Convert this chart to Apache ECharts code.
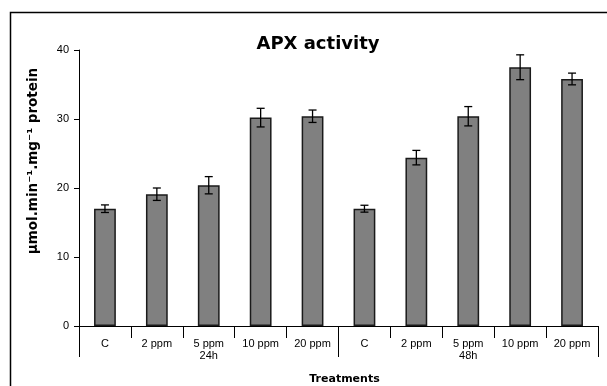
<!DOCTYPE html>
<html>
<head>
<meta charset="utf-8">
<script src="https://cdn.jsdelivr.net/npm/echarts@6/dist/echarts.min.js"></script>
<style>html,body{margin:0;padding:0;background:#fff}#c{width:607px;height:386px}</style>
</head>
<body>
<div id="c"></div>
<script>
const categories = ['C','2 ppm','5 ppm','10 ppm','20 ppm','C','2 ppm','5 ppm','10 ppm','20 ppm'];
const groups = ['24h','48h'];
const values = [17.0, 19.1, 20.4, 30.2, 30.4, 17.0, 24.4, 30.4, 37.5, 35.8];
const errors = [0.55, 0.9, 1.25, 1.35, 0.9, 0.5, 1.05, 1.4, 1.8, 0.85];
const yTicks = [0, 10, 20, 30, 40];

const errData = values.map((v, i) => [i, v - errors[i], v + errors[i]]);

const chart = echarts.init(document.getElementById('c'), null, {renderer: 'canvas'});
chart.setOption({
  backgroundColor: '#fff',
  animation: false,
  graphic: [{
    type: 'polyline',
    shape: {points: [[10.5, 390], [10.5, 12.5], [610, 12.5]]},
    style: {stroke: '#000', lineWidth: 1.5, fill: null}
  }, {
    type: 'text',
    x: 318, y: 44,
    style: {text: 'APX activity', fontFamily: 'DejaVu Sans', fontWeight: 'bold', fontSize: 18,
      fill: '#000', align: 'center', verticalAlign: 'middle'}
  }, {
    type: 'text',
    x: 33, y: 161,
    rotation: Math.PI / 2,
    style: {text: 'μmol.min⁻¹.mg⁻¹ protein', fontFamily: 'DejaVu Sans', fontWeight: 'bold', fontSize: 13.5,
      fill: '#000', align: 'center', verticalAlign: 'middle'}
  }],
  grid: {left: 79, right: 9, top: 50, bottom: 60, containLabel: false, outerBoundsMode: 'none'},
  xAxis: [{
    type: 'category',
    data: categories,
    position: 'bottom',
    axisLine: {lineStyle: {color: '#000', width: 1}},
    axisTick: {show: true, length: 12, lineStyle: {color: '#000'}},
    axisLabel: {color: '#000', fontFamily: 'Liberation Sans', fontSize: 11, margin: 12, interval: 0},
    name: 'Treatments',
    nameLocation: 'middle',
    nameGap: 48,
    nameTextStyle: {fontFamily: 'DejaVu Sans', fontWeight: 'bold', fontSize: 11, color: '#000', padding: [0, 0, 0, 12]}
  }, {
    type: 'category',
    data: groups,
    position: 'bottom',
    offset: 0,
    axisLine: {show: false},
    axisTick: {show: true, length: 31, lineStyle: {color: '#000'}},
    axisLabel: {color: '#000', fontFamily: 'Liberation Sans', fontSize: 11, margin: 24, interval: 0}
  }],
  yAxis: {
    type: 'value',
    min: 0, max: 40, interval: 10,
    axisLine: {show: true, lineStyle: {color: '#000'}},
    axisTick: {show: true, length: 5, lineStyle: {color: '#000'}},
    splitLine: {show: false},
    axisLabel: {color: '#000', fontFamily: 'Liberation Sans', fontSize: 11, margin: 10,
      formatter: v => yTicks.includes(v) ? String(v) : ''}
  },
  series: [{
    type: 'bar',
    data: values,
    xAxisIndex: 0,
    barWidth: '42%',
    itemStyle: {color: '#808080', borderColor: '#1a1a1a', borderWidth: 1.5},
    emphasis: {disabled: true}
  }, {
    type: 'custom',
    xAxisIndex: 0,
    data: errData,
    encode: {x: 0, y: [1, 2]},
    z: 10,
    renderItem: function (params, api) {
      const x = api.value(0);
      const lo = api.coord([x, api.value(1)]);
      const hi = api.coord([x, api.value(2)]);
      const cap = 4;
      const style = {stroke: '#000', lineWidth: 1.3, fill: null};
      return {
        type: 'group',
        children: [
          {type: 'line', shape: {x1: lo[0], y1: lo[1], x2: hi[0], y2: hi[1]}, style},
          {type: 'line', shape: {x1: hi[0] - cap, y1: hi[1], x2: hi[0] + cap, y2: hi[1]}, style},
          {type: 'line', shape: {x1: lo[0] - cap, y1: lo[1], x2: lo[0] + cap, y2: lo[1]}, style}
        ]
      };
    }
  }]
});
</script>
</body>
</html>
